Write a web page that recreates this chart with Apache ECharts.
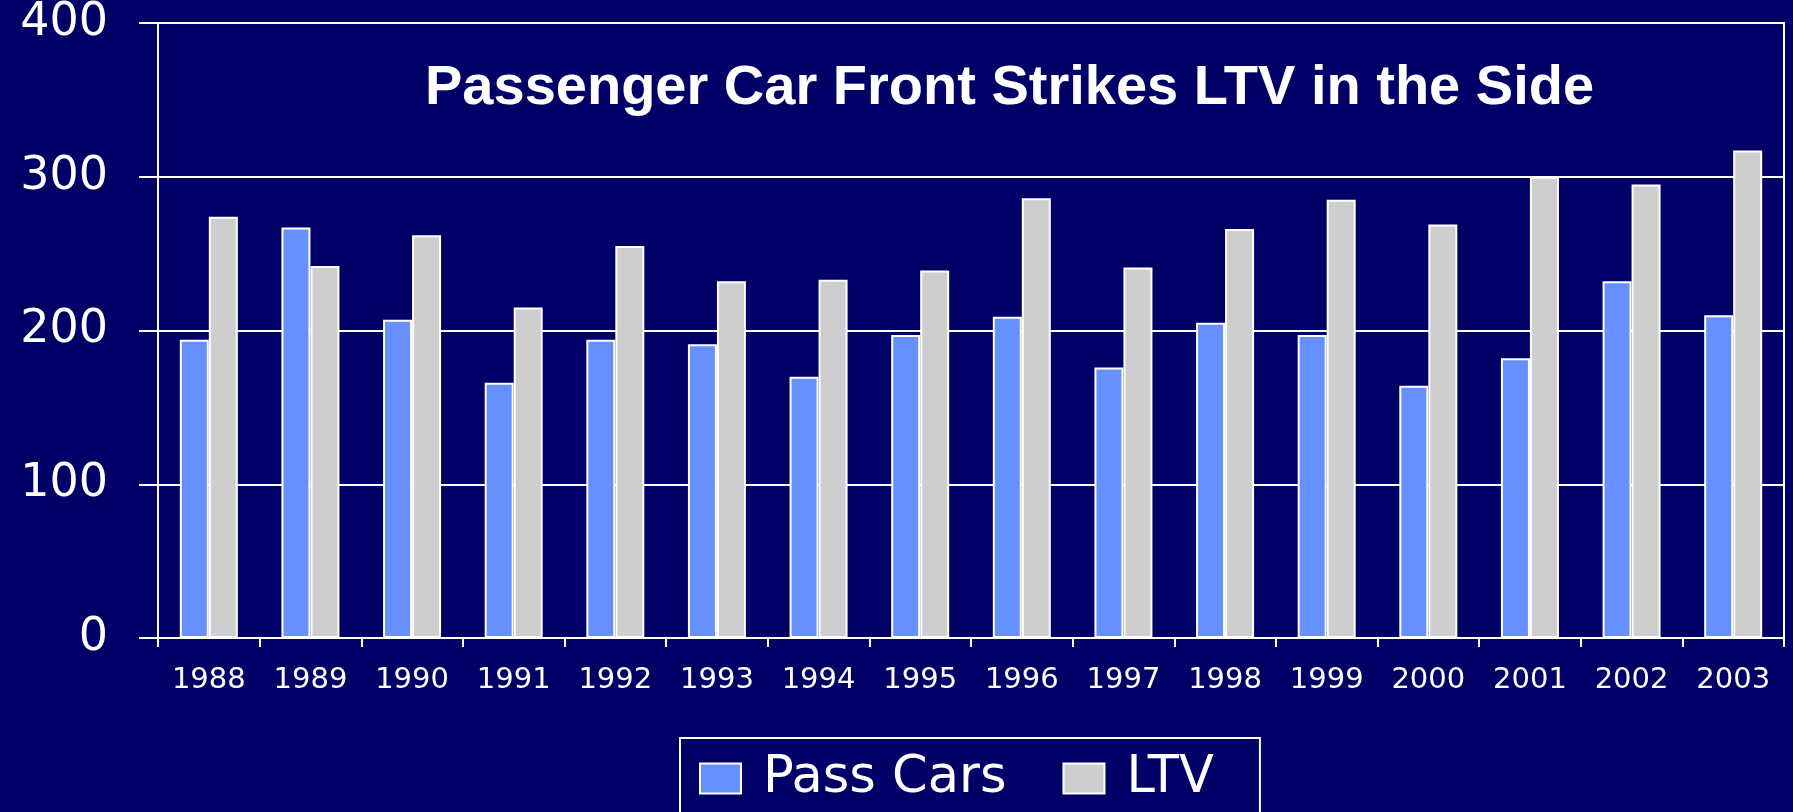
<!DOCTYPE html>
<html>
<head>
<meta charset="utf-8">
<title>Passenger Car Front Strikes LTV in the Side</title>
<script src="https://cdn.jsdelivr.net/npm/echarts@6/dist/echarts.min.js"></script>
<style>
    html, body {
        margin: 0;
        padding: 0;
        background: #000066;
    }
    #chart {
        width: 1793px;
        height: 812px;
    }
</style>
</head>
<body>
<div id="chart"></div>
<script>
    // data
    const years = ['1988', '1989', '1990', '1991', '1992', '1993', '1994', '1995',
        '1996', '1997', '1998', '1999', '2000', '2001', '2002', '2003']
    const passCars = [194, 267, 207, 166, 194, 191, 170, 197, 209, 176, 205, 197, 164, 182, 232, 210]
    const ltv = [274, 242, 262, 215, 255, 232, 233, 239, 286, 241, 266, 285, 269, 300, 295, 317]
    const seriesNames = ['Pass Cars', 'LTV']
    const yMax = 400
    const yStep = 100

    const white = '#ffffff'
    const axisFont = "'DejaVu Sans', Verdana, sans-serif"

    let myChart = echarts.init(document.getElementById('chart'))

    let option = {
        backgroundColor: '#000066',
        color: ['#6690ff', '#cecece'],
        animation: false,
        title: {
            text: 'Passenger Car Front Strikes LTV in the Side',
            left: 425,
            top: 61,
            padding: 0,
            textStyle: {
                color: white,
                fontFamily: "'Liberation Sans', Arial, sans-serif",
                fontWeight: 'bold',
                fontSize: 56
            }
        },
        legend: {
            data: seriesNames,
            left: 680,
            top: 738,
            orient: 'horizontal',
            icon: 'rect',
            borderColor: white,
            borderWidth: 2,
            padding: [15, 46, 60, 19],
            itemWidth: 41,
            itemHeight: 30,
            itemGap: 56,
            textStyle: {
                color: white,
                fontFamily: axisFont,
                fontSize: 51,
                padding: [0, 0, 0, 17]
            }
        },
        grid: {
            left: 158,
            right: 9,
            top: 20,
            bottom: 174,
            show: true,
            borderColor: white,
            borderWidth: 2,
            containLabel: false
        },
        xAxis: {
            type: 'category',
            data: years,
            boundaryGap: true,
            axisLine: {
                lineStyle: { color: white, width: 2 }
            },
            axisTick: {
                show: true,
                inside: false,
                length: 9,
                alignWithLabel: false,
                lineStyle: { color: white, width: 2 }
            },
            axisLabel: {
                color: white,
                fontFamily: axisFont,
                fontSize: 29,
                margin: 28,
                interval: 0
            }
        },
        yAxis: {
            type: 'value',
            min: 0,
            max: yMax,
            interval: yStep,
            axisLine: {
                show: true,
                lineStyle: { color: white, width: 2 }
            },
            axisTick: {
                show: true,
                inside: false,
                length: 19,
                lineStyle: { color: white, width: 2 }
            },
            splitLine: {
                show: true,
                lineStyle: { color: white, width: 2 }
            },
            axisLabel: {
                color: white,
                fontFamily: axisFont,
                fontSize: 46,
                margin: 50
            }
        },
        series: [{
            name: seriesNames[0],
            type: 'bar',
            data: passCars,
            barWidth: 29,
            barGap: '0%',
            itemStyle: {
                borderColor: white,
                borderWidth: 2
            }
        }, {
            name: seriesNames[1],
            type: 'bar',
            data: ltv,
            barWidth: 29,
            barGap: '0%',
            itemStyle: {
                borderColor: white,
                borderWidth: 2
            }
        }]
    }

    myChart.setOption(option)
</script>
</body>
</html>
